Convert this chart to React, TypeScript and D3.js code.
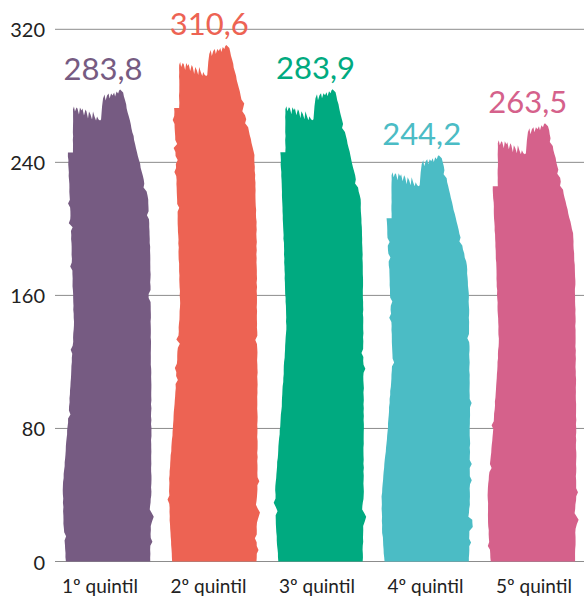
import React from "react";
import * as d3 from "d3";

// Average value per income quintile
const categories = ["1º quintil", "2º quintil", "3º quintil", "4º quintil", "5º quintil"];
const values = [283.8, 310.6, 283.9, 244.2, 263.5];
const colors = ["#765b82", "#ed6353", "#00aa80", "#4bbcc5", "#d5618b"];
const yTicks = [0, 80, 160, 240, 320];

const W = 584;
const H = 598;
const FONT = "Lato, 'Open Sans', sans-serif";

const ptFormat = d3.formatLocale({
  decimal: ",",
  thousands: ".",
  grouping: [3],
  currency: ["", ""],
}).format(".1f");

const x = d3.scaleBand<string>().domain(categories).range([55, 585]).paddingInner(0.14).paddingOuter(0.065);
const xLabel = d3.scalePoint<string>().domain(categories).range([100, 534]);
const y = d3.scaleLinear().domain([0, 320]).range([561.5, 29.3]);

// Brush-stroke profile of a bar's top edge: x offset (on a 91px wide bar), depth below the peak
const topProfileX = [11, 12, 13, 14.5, 15.5, 17, 18, 19.5, 20.5, 22, 23.5, 24.5, 26, 27, 28.5, 30, 31, 32.5, 34, 35, 36.5, 38, 39, 40, 41, 42.5, 43.5, 45, 46.5, 47.5, 49, 50.5, 52, 53, 54.5, 56, 57, 58];
const topProfileDy = [20, 17, 22, 18, 19, 25, 18, 21, 19, 26, 20, 22, 29, 22, 25, 30, 22, 27, 31, 27, 30, 31, 30, 17, 9, 5, 11, 6, 4, 9, 4, 6, 3, 7, 2, 4, 1, 0];

function noise(i: number, seed: number) {
  const v = Math.sin(i * 127.1 + seed * 311.7) * 43758.5453;
  return v - Math.floor(v) - 0.5;
}

// Resample an edge every few pixels with a slight brush wobble and the odd nick
function densify(pts: [number, number][], seed: number, amp: number, start: number) {
  const out: [number, number][] = [];
  let c = start;
  for (let k = 0; k < pts.length - 1; k++) {
    const a = pts[k];
    const b = pts[k + 1];
    const len = Math.hypot(b[0] - a[0], b[1] - a[1]);
    const n = Math.max(1, Math.round(len / 4));
    for (let j = 0; j < n; j++) {
      const t = j / n;
      const nx = noise(c++, seed);
      const nick = Math.abs(nx) > 0.47 ? Math.sign(nx) * 1.6 : 0;
      const jitter = j === 0 ? 0 : nx * amp + nick;
      out.push([a[0] + (b[0] - a[0]) * t + jitter, a[1] + (b[1] - a[1]) * t]);
    }
  }
  out.push(pts[pts.length - 1]);
  return out;
}

function barPath(x0: number, w: number, yTop: number, yBase: number, seed: number) {
  const s = w / 91;
  const h = yBase - yTop;
  const X = (v: number) => x0 + v * s;
  const T = (t: number) => yTop + t * h;

  const left: [number, number][] = [
    [X(4), T(1)],
    [X(1.5), T(0.92)],
    [X(1), T(0.84)],
    [X(7), T(0.68)],
    [X(12), T(0.5)],
    [X(9), T(0.3)],
    [X(6), yTop + 63],
  ];
  const pts: [number, number][] = [];
  pts.push(...densify(left, seed, 0.5, 0));
  pts.push([X(11), yTop + 63]);
  pts.push(...densify([[X(11), yTop + 62], [X(11), yTop + 20]], seed, 0.4, 200));
  topProfileX.forEach((tx, i) => pts.push([X(tx), yTop + topProfileDy[i]]));
  const right: [number, number][] = [
    [X(61), yTop + 3],
    [X(86), yTop + 110],
    [X(88), T(0.35)],
    [X(88.5), T(0.5)],
    [X(89), T(0.65)],
    [X(89), T(0.86)],
    [X(87.5), T(0.89)],
    [X(91.5), T(0.905)],
    [X(88.5), T(0.925)],
    [X(88), T(1)],
  ];
  pts.push(...densify(right, seed, 0.6, 400));
  return (d3.line()(pts) || "") + "Z";
}

export default function App() {
  const bw = x.bandwidth();
  return (
    <svg
      width={W}
      height={H}
      viewBox={`0 0 ${W} ${H}`}
      style={{ position: "absolute", left: 0, top: 0, background: "#fff" }}
    >
      <g>
        {yTicks.map((t) => (
          <g key={t}>
            <line x1={55} x2={W} y1={y(t)} y2={y(t)} stroke="#8c8c8c" strokeWidth={1} />
            <text
              x={45}
              y={y(t)}
              textAnchor="end"
              dominantBaseline="central"
              fontFamily={FONT}
              fontSize={20}
              fill="#222"
            >
              {t}
            </text>
          </g>
        ))}
      </g>
      <g>
        {categories.map((c, i) => {
          const x0 = x(c) as number;
          const yTop = y(values[i]);
          return (
            <g key={c}>
              <path d={barPath(x0, bw, yTop, y(0), i + 1)} fill={colors[i]} />
              <text
                x={x0 + bw * 0.45}
                y={yTop - 10}
                textAnchor="middle"
                fontFamily={FONT}
                fontWeight={400}
                fontSize={31}
                fill={colors[i]}
              >
                {ptFormat(values[i])}
              </text>
              <text
                x={xLabel(c)}
                y={593}
                textAnchor="middle"
                fontFamily={FONT}
                fontSize={19}
                fill="#222"
              >
                {c}
              </text>
            </g>
          );
        })}
      </g>
    </svg>
  );
}
